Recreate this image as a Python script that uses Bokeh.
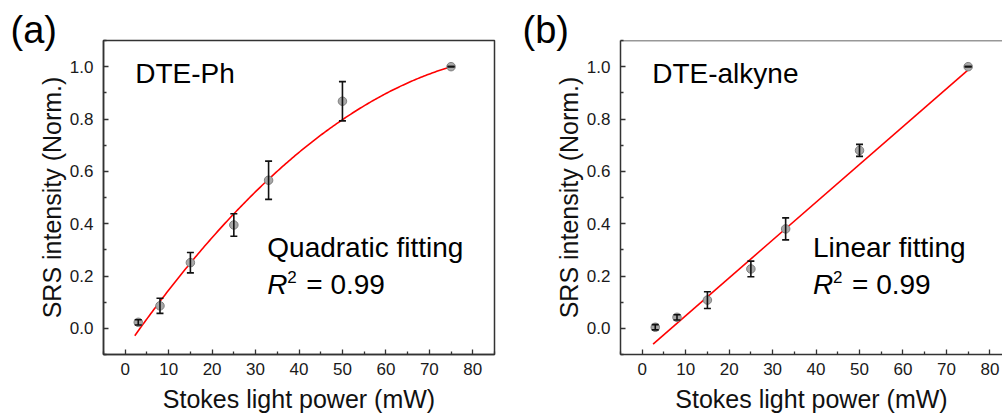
import numpy as np
from bokeh.plotting import figure
from bokeh.layouts import row
from bokeh.models import (ColumnDataSource, Whisker, TeeHead, Label, FixedTicker,
                          PrintfTickFormatter, Range1d, Span)
from bokeh.embed import file_html
from bokeh.resources import INLINE

# ---------------- data ----------------
power_a = [3, 8, 15, 25, 33, 50, 75]
srs_a = [0.023, 0.086, 0.251, 0.395, 0.566, 0.868, 1.0]
err_a = [0.010, 0.029, 0.039, 0.043, 0.073, 0.075, 0.0]

power_b = [3, 8, 15, 25, 33, 50, 75]
srs_b = [0.004, 0.042, 0.108, 0.227, 0.380, 0.680, 1.0]
err_b = [0.010, 0.010, 0.032, 0.030, 0.042, 0.023, 0.0]

# fitted curves (coefficients read from the drawn fits)
quad_coef = [-0.0799, 0.02385, -1.2607e-4]   # c0 + c1*x + c2*x^2
quad_x_span = [2.2, 75]
lin_coef = [-0.0961, 0.01445]                # c0 + c1*x
lin_x_span = [2.5, 75]

x_ticks = [0, 10, 20, 30, 40, 50, 60, 70, 80]
x_minor = [-5, 5, 15, 25, 35, 45, 55, 65, 75, 85]
y_ticks = [0.0, 0.2, 0.4, 0.6, 0.8, 1.0]
y_minor = [-0.1, 0.1, 0.3, 0.5, 0.7, 0.9, 1.1]

panel_letters = ["(a)", "(b)"]
sample_names = ["DTE-Ph", "DTE-alkyne"]
fit_names = ["Quadratic fitting", "Linear fitting"]
r2_text = "= 0.99"
x_label = "Stokes light power (mW)"
y_label = "SRS intensity (Norm.)"

FONT = "Liberation Sans"
AX = "#333333"


def lab(x, y, text, size, style="normal", x_offset=0):
    return Label(x=x, y=y, text=text, text_font=FONT, text_font_size=size,
                 text_font_style=style, text_color="#000000", x_offset=x_offset)


def make_panel(xs, ys, es, fit_x, fit_y, letter, letter_off, name, fitname, fit_text_x,
               x_end, border_left, border_right, frame_w, outline):
    p = figure(frame_width=frame_w, frame_height=314,
               min_border_left=border_left, min_border_right=border_right,
               min_border_top=40, min_border_bottom=62,
               x_range=Range1d(-5, x_end), y_range=Range1d(-0.1, 1.1),
               output_backend="svg", toolbar_location=None,
               background_fill_color="white", border_fill_color="white")
    p.grid.visible = False
    if outline:
        p.outline_line_color = AX
        p.outline_line_width = 1.5
    else:
        p.outline_line_color = None
        p.add_layout(Span(location=1.1, dimension="width", line_color=AX,
                          line_width=1.5))

    # panel letter as the figure title
    p.title.text = letter
    p.title.text_font = FONT
    p.title.text_font_size = "38px"
    p.title.text_font_style = "normal"
    p.title.text_color = "#000000"
    p.title.align = "left"
    p.title.offset = letter_off
    p.title.standoff = -21

    for ax in (p.xaxis[0], p.yaxis[0]):
        ax.axis_line_color = AX
        ax.axis_line_width = 1.5
        ax.major_tick_line_color = AX
        ax.minor_tick_line_color = AX
        ax.major_tick_line_width = 1.3
        ax.minor_tick_line_width = 1.3
        ax.major_tick_in = 5
        ax.major_tick_out = 0
        ax.minor_tick_in = 3
        ax.minor_tick_out = 0
        ax.major_label_text_font = FONT
        ax.major_label_text_font_size = "17px"
        ax.major_label_text_color = "#1a1a1a"
        ax.axis_label_text_font = FONT
        ax.axis_label_text_font_size = "25px"
        ax.axis_label_text_font_style = "normal"
        ax.axis_label_text_color = "#111111"

    p.xaxis[0].ticker = FixedTicker(ticks=x_ticks, minor_ticks=x_minor)
    p.yaxis[0].ticker = FixedTicker(ticks=y_ticks, minor_ticks=y_minor)
    p.xaxis[0].formatter = PrintfTickFormatter(format="%d")
    p.yaxis[0].formatter = PrintfTickFormatter(format="%.1f")
    p.xaxis[0].major_label_standoff = 8
    p.yaxis[0].major_label_standoff = 10
    p.xaxis[0].axis_label = x_label
    p.yaxis[0].axis_label = y_label
    p.xaxis[0].axis_label_standoff = 7
    p.yaxis[0].axis_label_standoff = 1

    # fit line
    p.line(fit_x, fit_y, line_color="#ff0000", line_width=1.6)

    src = ColumnDataSource(dict(x=xs, y=ys,
                                lo=[y - e for y, e in zip(ys, es)],
                                hi=[y + e for y, e in zip(ys, es)]))
    wh = Whisker(base="x", upper="hi", lower="lo", source=src, dimension="height",
                 line_color="#111111", line_width=1.6, level="glyph",
                 upper_head=TeeHead(size=7, line_color="#111111", line_width=1.6),
                 lower_head=TeeHead(size=7, line_color="#111111", line_width=1.6))
    p.add_layout(wh)
    p.scatter("x", "y", source=src, size=8.5, fill_color="#a8a8a8",
              line_color="#808080", line_width=1)

    # texts (bottom-anchored)
    p.add_layout(lab(2.3, 0.915, name, "28px"))
    p.add_layout(lab(fit_text_x, 0.249, fitname, "28px"))
    p.add_layout(lab(fit_text_x, 0.110, "R", "28px", style="italic"))
    p.add_layout(lab(fit_text_x, 0.173, "2", "17px", x_offset=20))
    p.add_layout(lab(fit_text_x, 0.110, r2_text, "28px", x_offset=39))
    return p


fx_a = np.linspace(quad_x_span[0], quad_x_span[1], 200)
fy_a = quad_coef[0] + quad_coef[1] * fx_a + quad_coef[2] * fx_a ** 2
fx_b = np.array(lin_x_span, dtype=float)
fy_b = lin_coef[0] + lin_coef[1] * fx_b

pa = make_panel(power_a, srs_a, err_a, fx_a, fy_a, panel_letters[0], -93,
                sample_names[0], fit_names[0], 32.7, 85, 103, 6, 391, True)
pb = make_panel(power_b, srs_b, err_b, fx_b, fy_b, panel_letters[1], -98,
                sample_names[1], fit_names[1], 39.3, 82.9, 120, 0, 382, False)

layout = row(pa, pb, spacing=0)
open("out.html", "w").write(file_html(layout, INLINE))
